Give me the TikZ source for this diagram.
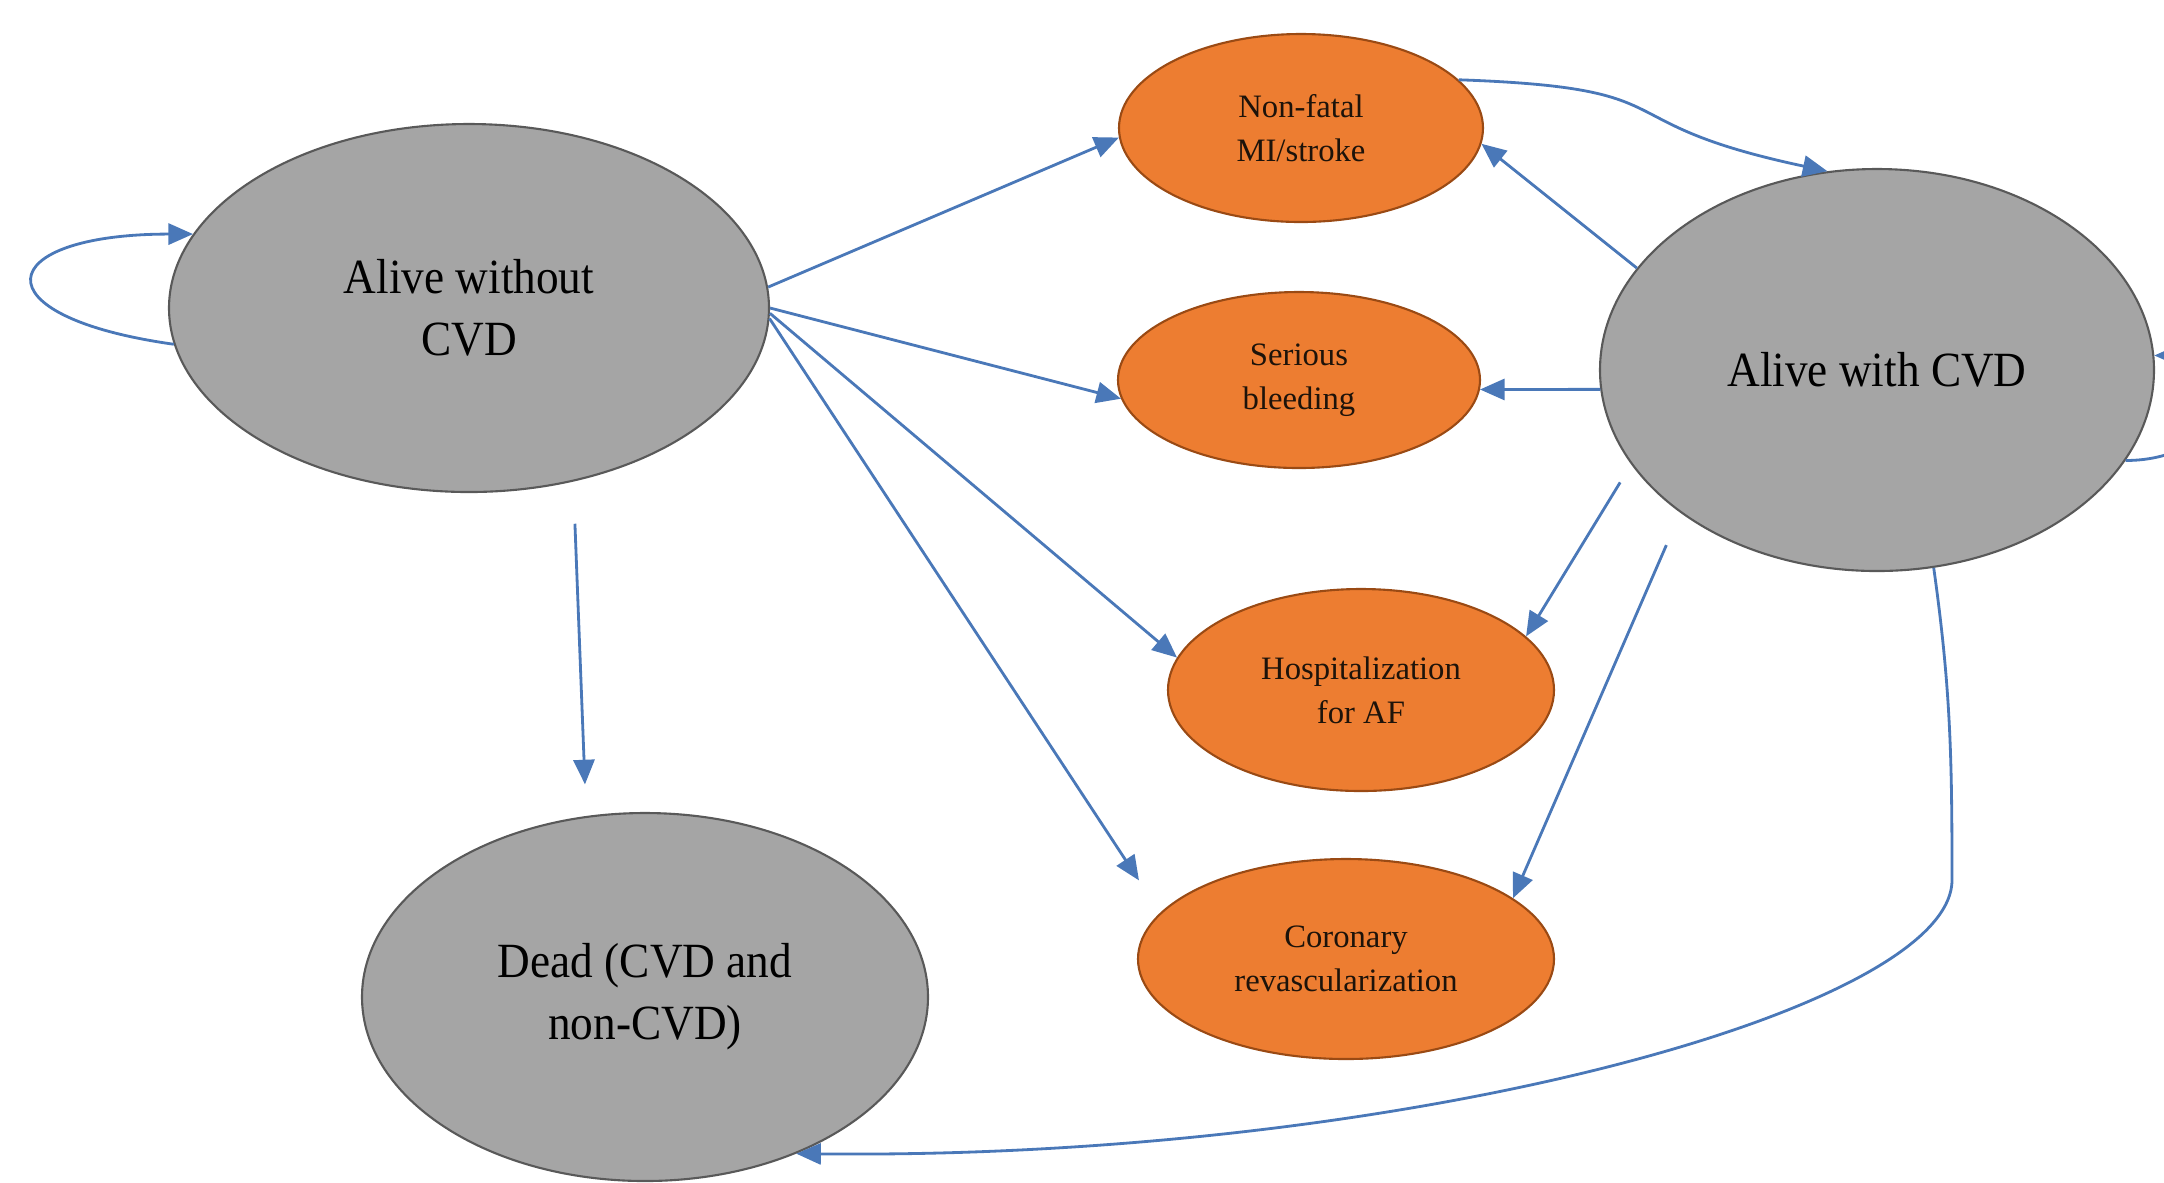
\documentclass[tikz,border=0pt]{standalone}
\definecolor{stategray}{HTML}{A5A5A5}
\definecolor{eventorange}{HTML}{ED7D31}
\definecolor{arrowblue}{HTML}{4A78B8}
\definecolor{edgegray}{HTML}{595959}
\definecolor{edgebrown}{HTML}{9A4A14}
\usepackage{fontspec}
\setmainfont{Liberation Serif}
\newfontfamily\statefont{Liberation Serif}[FakeStretch=0.92]
\usepackage{tikz}
\usetikzlibrary{arrows.meta,shapes.geometric}

\begin{document}
\begin{tikzpicture}[
  state/.style={ellipse,draw=edgegray,fill=stategray,line width=0.6pt,inner sep=0pt,align=center,font=\statefont\fontsize{14}{17.6}\selectfont},
  event/.style={ellipse,draw=edgebrown,fill=eventorange,line width=0.6pt,inner sep=0pt,align=center,text=black!85!brown,font=\fontsize{9.3}{12.5}\selectfont},
  arr/.style={draw=arrowblue,line width=0.8pt,-{Triangle[length=7pt,width=6pt]}}]
  \useasboundingbox (0,0) rectangle (21.64,-11.82);
  \clip (0,0) rectangle (21.64,-11.82);
  \node[state,minimum width=6cm,minimum height=3.68cm] (alive) at (4.69,-3.08) {Alive without\\CVD};
  \node[state,minimum width=5.66cm,minimum height=3.68cm] (dead) at (6.45,-9.97) {Dead (CVD and\\non-CVD)};
  \node[state,minimum width=5.54cm,minimum height=4.02cm] (cvd) at (18.77,-3.70) {Alive with CVD};
  \node[event,minimum width=3.64cm,minimum height=1.88cm] (mi) at (13.01,-1.28) {Non-fatal\\MI/stroke};
  \node[event,minimum width=3.62cm,minimum height=1.76cm] (bleed) at (12.99,-3.80) {Serious\\bleeding};
  \node[event,minimum width=3.86cm,minimum height=2.02cm] (hosp) at (13.61,-6.90) {Hospitalization\\for AF};
  \node[event,minimum width=4.16cm,minimum height=2.0cm] (revasc) at (13.46,-9.59) {Coronary\\revascularization};
  \draw[arr] (alive.187) to[out=172,in=180,looseness=4.6] (alive.165);
  \draw[arr] (cvd.-20) to[out=0,in=0,looseness=2.5] (cvd.3);
  \foreach \tgt/\sa/\ta/\gap in {mi/4/183/0pt,bleed/0/186/0pt,hosp/-1/170/0pt,revasc/-2/166/11pt}
    \draw[arr,shorten >=\gap] (alive.\sa) -- (\tgt.\ta);
  \draw[arr,shorten <=12pt,shorten >=9pt] (alive.-59) -- (dead.108);
  \foreach \tgt/\sa/\ta/\gap in {mi/157/-5/0pt,bleed/184/-3/0pt,hosp/201/18/6pt,revasc/216/20/10pt}
    \draw[arr,shorten <=\gap] (cvd.\sa) -- (\tgt.\ta);
  \draw[arr] (mi.17) to[out=-2,in=168,looseness=1.6] (cvd.104);
  \coordinate (bend) at (19.52,-8.8);
  \draw[arr] (cvd.-74) to[out=-82,in=90] (bend) .. controls +(0,-1.3) and (14,-11.6) .. (dead.-46);
\end{tikzpicture}
\end{document}
